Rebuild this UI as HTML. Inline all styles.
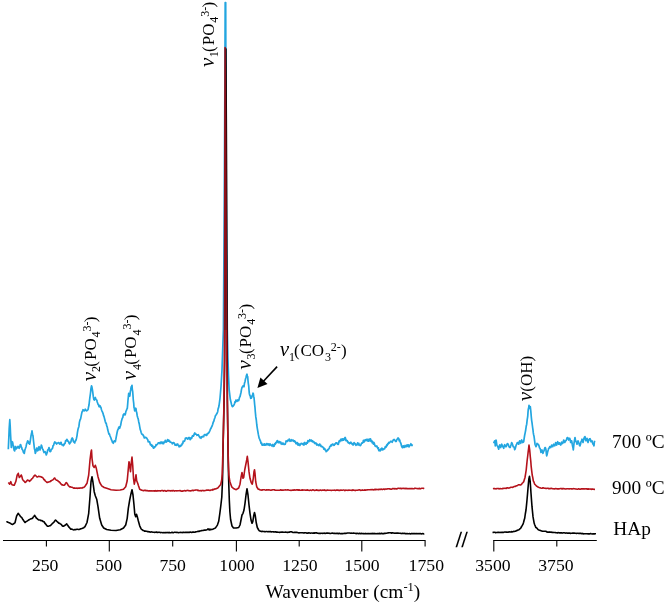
<!DOCTYPE html>
<html><head><meta charset="utf-8"><title>Raman spectra</title>
<style>html,body{margin:0;padding:0;background:#fff}svg{display:block}</style></head>
<body>
<svg width="666" height="604" viewBox="0 0 666 604">
<rect width="666" height="604" fill="#fff"/>
<g fill="none" stroke-width="1.6" stroke-linejoin="round" stroke-linecap="butt">
<path stroke="#23a6e0" stroke-width="1.7" d="M8.3,449.2 L8.8,438.2 L9.2,428.3 L9.5,424.1 L9.8,419.7 L10.2,426.2 L10.5,433.3 L10.9,440.6 L11.3,447.5 L11.7,444.9 L12.0,441.7 L12.5,442.0 L13.0,444.2 L13.3,445.2 L13.7,448.3 L14.2,450.3 L14.7,450.8 L15.0,448.2 L15.3,446.7 L15.8,446.6 L16.2,448.9 L16.7,448.3 L17.1,447.6 L17.6,447.7 L18.0,446.3 L18.6,447.3 L19.2,448.3 L19.8,446.8 L20.3,444.7 L20.8,444.8 L21.2,446.9 L21.7,447.5 L22.1,449.4 L22.6,449.8 L23.0,450.8 L23.4,452.2 L23.9,452.9 L24.3,453.3 L24.9,449.9 L25.5,448.3 L26.1,446.4 L26.7,443.3 L27.2,442.3 L27.7,440.8 L28.2,441.6 L28.7,443.3 L29.2,442.7 L29.7,444.2 L30.1,442.2 L30.6,438.6 L31.0,435.8 L31.5,433.8 L32.0,430.8 L32.5,434.2 L33.0,435.8 L33.5,440.9 L34.0,445.0 L34.4,448.7 L34.9,450.3 L35.3,453.3 L35.8,452.2 L36.2,449.7 L36.7,448.0 L37.2,450.4 L37.7,450.8 L38.1,450.3 L38.6,447.2 L39.0,446.7 L39.5,447.5 L40.0,450.0 L40.4,447.7 L40.9,447.7 L41.3,445.0 L41.8,446.2 L42.2,448.1 L42.7,449.2 L43.1,449.8 L43.6,451.4 L44.0,452.5 L44.4,452.0 L44.9,451.6 L45.3,451.7 L45.8,453.5 L46.3,455.0 L46.8,453.5 L47.2,452.6 L47.7,450.0 L48.1,449.6 L48.6,449.3 L49.0,447.5 L49.4,449.7 L49.9,451.4 L50.3,451.7 L50.8,451.2 L51.2,449.3 L51.7,449.2 L52.1,448.8 L52.6,448.0 L53.0,445.8 L53.6,445.4 L54.1,443.4 L54.7,442.0 L55.1,442.9 L55.6,442.3 L56.0,443.3 L56.6,444.0 L57.1,443.3 L57.7,443.0 L58.2,442.7 L58.8,442.5 L59.3,443.7 L59.8,444.1 L60.2,444.0 L60.7,442.5 L61.1,442.3 L61.6,444.6 L62.0,444.7 L62.4,444.9 L62.9,444.7 L63.3,445.8 L63.8,444.5 L64.2,444.8 L64.7,443.3 L65.1,443.3 L65.6,440.7 L66.0,440.8 L66.4,440.8 L66.9,439.3 L67.3,440.0 L67.8,441.1 L68.2,441.0 L68.7,442.0 L69.1,443.3 L69.6,443.9 L70.0,443.3 L70.4,442.2 L70.9,442.2 L71.3,440.0 L71.8,438.6 L72.2,438.0 L72.8,438.7 L73.3,441.3 L73.8,442.1 L74.2,441.4 L74.7,443.0 L75.1,441.3 L75.6,440.8 L76.0,440.0 L76.5,438.2 L77.0,435.8 L77.4,432.6 L77.9,429.8 L78.3,428.3 L78.9,426.4 L79.4,422.4 L80.0,420.0 L80.6,418.8 L81.1,416.4 L81.7,413.3 L82.1,411.8 L82.6,410.8 L83.0,409.7 L83.6,410.3 L84.2,410.8 L84.8,410.3 L85.3,409.2 L85.8,410.2 L86.3,410.8 L86.8,410.7 L87.2,410.5 L87.7,410.0 L88.1,409.3 L88.6,406.7 L89.0,405.0 L89.5,400.7 L90.0,396.7 L90.5,393.0 L91.0,388.3 L91.5,385.8 L91.9,386.9 L92.3,389.2 L92.8,392.5 L93.3,396.7 L93.8,399.4 L94.3,400.0 L94.8,398.8 L95.3,397.5 L95.8,398.9 L96.3,400.0 L96.8,400.0 L97.2,402.0 L97.7,403.3 L98.1,404.6 L98.6,404.5 L99.0,406.7 L99.5,406.5 L100.0,405.8 L100.4,407.2 L100.9,407.1 L101.3,409.2 L101.9,410.8 L102.4,411.9 L103.0,413.3 L103.6,415.7 L104.1,416.9 L104.7,419.2 L105.2,421.3 L105.7,423.0 L106.2,423.1 L106.7,425.8 L107.2,426.8 L107.8,430.1 L108.3,431.7 L108.9,434.1 L109.4,433.9 L110.0,435.8 L110.5,437.0 L111.0,438.3 L111.4,439.8 L111.9,440.4 L112.3,442.0 L112.8,442.4 L113.3,443.3 L113.8,441.7 L114.3,440.8 L114.8,441.0 L115.3,441.7 L115.8,439.4 L116.3,436.7 L116.8,434.0 L117.2,432.0 L117.7,430.0 L118.2,429.3 L118.7,427.5 L119.2,426.9 L119.7,428.3 L120.1,426.8 L120.6,425.5 L121.0,423.3 L121.4,421.2 L121.9,419.4 L122.3,418.3 L122.8,417.6 L123.2,415.0 L123.7,414.2 L124.1,413.8 L124.6,414.6 L125.0,415.0 L125.4,414.0 L125.9,411.3 L126.3,410.8 L126.8,409.2 L127.3,408.3 L127.7,403.8 L128.0,400.0 L128.3,397.4 L128.7,393.3 L129.0,394.4 L129.3,395.8 L129.7,396.2 L130.0,395.0 L130.3,391.8 L130.7,390.0 L131.0,388.0 L131.3,386.7 L131.7,386.3 L132.0,385.3 L132.3,389.3 L132.7,391.7 L133.0,395.7 L133.3,400.0 L133.7,403.1 L134.0,407.5 L134.3,408.3 L134.7,410.8 L135.0,410.1 L135.3,409.2 L135.7,408.2 L136.0,408.7 L136.3,411.3 L136.7,412.5 L137.2,415.7 L137.7,417.5 L138.2,418.9 L138.7,421.7 L139.2,423.7 L139.7,426.7 L140.2,429.4 L140.7,430.8 L141.1,432.3 L141.6,433.7 L142.0,434.2 L142.4,434.4 L142.9,434.5 L143.3,435.8 L143.8,436.1 L144.2,437.9 L144.7,438.0 L145.1,437.3 L145.6,437.3 L146.0,437.5 L146.4,437.9 L146.9,438.4 L147.3,439.2 L147.8,439.8 L148.2,441.8 L148.7,441.7 L149.1,441.5 L149.6,441.7 L150.0,443.3 L150.4,444.8 L150.9,445.1 L151.3,444.7 L151.8,446.1 L152.2,445.3 L152.7,445.8 L153.1,447.5 L153.6,448.2 L154.0,448.0 L154.5,446.9 L155.0,447.0 L155.5,446.4 L156.0,444.7 L156.4,445.2 L156.9,444.7 L157.3,444.2 L157.8,443.8 L158.2,442.9 L158.7,443.0 L159.1,442.9 L159.6,442.8 L160.0,443.7 L160.4,442.2 L160.9,442.8 L161.3,442.0 L161.8,442.0 L162.2,443.6 L162.7,443.3 L163.1,442.1 L163.6,443.7 L164.0,442.5 L164.4,442.2 L164.9,442.0 L165.3,440.3 L165.8,441.7 L166.2,442.1 L166.7,441.7 L167.1,441.3 L167.6,439.5 L168.0,440.0 L168.4,441.0 L168.9,440.2 L169.3,441.3 L169.8,441.1 L170.2,442.1 L170.7,442.0 L171.1,442.4 L171.6,442.5 L172.0,443.0 L172.4,443.8 L172.9,442.9 L173.3,442.5 L173.8,442.7 L174.2,443.1 L174.7,444.2 L175.1,445.2 L175.6,444.7 L176.0,445.0 L176.4,445.3 L176.9,444.1 L177.3,444.2 L177.8,444.1 L178.2,445.4 L178.7,445.8 L179.2,446.8 L179.7,446.3 L180.1,445.3 L180.6,446.3 L181.0,445.3 L181.4,445.6 L181.9,444.7 L182.3,443.3 L182.8,443.5 L183.2,441.1 L183.7,441.7 L184.1,441.3 L184.6,441.1 L185.0,439.7 L185.4,438.1 L185.9,438.1 L186.3,438.0 L186.8,437.9 L187.2,438.8 L187.7,439.2 L188.1,438.4 L188.6,438.0 L189.0,437.5 L189.4,438.8 L189.9,437.8 L190.3,439.7 L190.8,438.2 L191.2,438.0 L191.7,438.3 L192.1,436.7 L192.6,435.7 L193.0,435.8 L193.4,436.2 L193.9,435.2 L194.3,433.7 L194.8,432.9 L195.2,434.0 L195.7,434.2 L196.1,434.2 L196.6,434.5 L197.0,435.3 L197.4,434.8 L197.9,435.2 L198.3,434.7 L198.8,435.8 L199.2,436.2 L199.7,437.5 L200.1,437.1 L200.6,437.7 L201.0,438.3 L201.4,436.8 L201.9,437.1 L202.3,436.3 L202.8,436.9 L203.2,436.3 L203.7,436.7 L204.1,435.1 L204.6,434.6 L205.0,434.7 L205.4,434.6 L205.9,435.3 L206.3,435.3 L206.8,435.3 L207.2,433.7 L207.7,433.3 L208.2,433.6 L208.8,432.7 L209.3,432.0 L209.9,430.6 L210.4,429.3 L211.0,428.3 L211.6,426.9 L212.1,426.0 L212.7,424.2 L213.2,422.3 L213.8,421.3 L214.3,419.2 L214.9,417.7 L215.4,415.8 L216.0,415.0 L216.6,414.0 L217.1,413.2 L217.7,411.7 L218.1,408.8 L218.6,407.6 L219.0,405.8 L220.0,398.3 L221.0,386.7 L221.7,375.0 L222.0,370.0 L223.4,330.0 L224.3,200.0 L224.9,80.0 L225.2,2.5 L225.7,2.5 L225.9,80.0 L226.3,200.0 L227.3,330.0 L227.9,357.4 L228.5,375.6 L229.2,390.2 L230.3,399.3 L231.6,404.8 L232.0,406.0 L232.5,406.6 L232.3,406.3 L232.8,406.4 L233.2,406.1 L233.7,405.0 L234.1,404.9 L234.6,403.3 L235.0,401.7 L235.4,402.3 L235.9,400.1 L236.3,400.8 L236.8,400.5 L237.2,401.3 L237.7,400.0 L238.1,400.2 L238.6,400.7 L239.0,399.7 L239.5,397.3 L240.0,396.7 L240.5,394.5 L241.0,392.5 L241.5,389.4 L242.0,387.5 L242.5,386.8 L243.0,385.8 L243.5,386.4 L244.0,386.7 L244.5,383.1 L245.0,381.7 L245.5,379.0 L246.0,377.5 L246.5,375.3 L247.0,374.2 L247.3,376.3 L247.7,376.7 L248.0,380.6 L248.3,383.3 L248.7,385.9 L249.0,390.0 L249.3,393.2 L249.7,395.0 L250.2,395.9 L250.7,398.3 L251.2,398.2 L251.7,397.5 L252.2,395.4 L252.7,395.0 L253.0,393.2 L253.3,393.7 L253.7,396.4 L254.0,397.5 L254.3,400.6 L254.7,405.0 L255.0,407.7 L255.3,411.7 L255.8,416.9 L256.3,420.0 L256.8,425.0 L257.3,428.3 L258.3,434.2 L258.8,436.6 L259.2,438.3 L259.7,439.2 L260.1,440.5 L260.6,441.3 L261.0,443.3 L261.5,442.9 L262.0,445.0 L262.4,445.2 L262.8,444.5 L263.2,445.1 L263.7,444.2 L264.1,444.0 L264.5,445.1 L264.9,444.0 L265.3,444.7 L265.8,445.2 L266.2,444.8 L266.6,443.7 L267.0,443.7 L267.4,444.1 L267.8,444.8 L268.2,443.9 L268.7,445.0 L269.1,444.9 L269.5,445.4 L269.9,443.8 L270.3,444.2 L270.8,445.2 L271.2,445.2 L271.6,445.9 L272.0,445.3 L272.4,445.0 L272.8,444.5 L273.2,446.5 L273.7,445.8 L274.1,446.2 L274.5,444.9 L274.9,443.5 L275.3,444.2 L275.8,442.5 L276.2,442.9 L276.7,441.7 L277.2,440.7 L277.7,440.8 L278.1,442.6 L278.6,442.2 L279.0,442.5 L279.4,441.6 L279.9,442.6 L280.3,442.0 L280.8,442.1 L281.2,444.0 L281.7,443.3 L282.1,444.3 L282.6,443.1 L283.0,443.0 L283.4,443.8 L283.9,444.3 L284.3,444.2 L284.8,444.4 L285.2,444.3 L285.7,442.5 L286.1,440.9 L286.6,441.4 L287.0,441.3 L287.4,441.3 L287.9,440.2 L288.3,440.3 L288.8,440.5 L289.2,439.0 L289.7,440.0 L290.1,441.3 L290.6,440.6 L291.0,440.8 L291.4,439.7 L291.9,440.9 L292.3,440.3 L292.8,440.2 L293.2,440.2 L293.7,441.3 L294.1,441.5 L294.6,440.8 L295.0,442.0 L295.4,441.6 L295.9,443.6 L296.3,443.0 L296.8,443.9 L297.2,442.5 L297.7,444.2 L298.1,445.2 L298.6,443.5 L299.0,445.0 L299.4,444.3 L299.9,445.5 L300.3,444.2 L300.8,444.3 L301.2,443.3 L301.7,443.7 L302.1,443.7 L302.6,444.0 L303.0,444.7 L303.4,443.3 L303.9,445.1 L304.3,443.3 L304.8,442.5 L305.2,443.7 L305.7,444.2 L306.1,444.3 L306.6,442.8 L307.0,442.5 L307.4,443.2 L307.9,440.7 L308.3,440.8 L308.8,441.7 L309.2,441.1 L309.7,439.7 L310.1,440.2 L310.6,440.9 L311.0,440.0 L311.4,440.1 L311.9,441.4 L312.3,440.8 L312.8,441.9 L313.2,441.4 L313.7,441.7 L314.1,442.1 L314.6,443.3 L315.0,443.3 L315.4,443.4 L315.9,442.8 L316.3,444.2 L316.8,445.1 L317.2,444.1 L317.7,445.0 L318.1,444.9 L318.6,445.5 L319.0,444.7 L319.4,444.2 L319.9,444.2 L320.3,445.8 L320.8,445.1 L321.2,446.6 L321.7,446.7 L322.1,446.6 L322.6,446.6 L323.0,447.5 L323.4,447.7 L323.9,449.2 L324.3,448.3 L324.8,448.7 L325.3,450.3 L325.8,450.3 L326.2,451.7 L326.7,450.8 L327.1,450.8 L327.6,449.7 L328.0,450.0 L328.4,449.4 L328.9,448.8 L329.3,448.3 L329.8,446.6 L330.2,446.3 L330.7,445.8 L331.1,444.9 L331.6,445.8 L332.0,444.7 L332.5,444.0 L333.0,444.2 L333.4,444.6 L333.8,445.4 L334.2,445.3 L334.7,444.2 L335.1,443.6 L335.5,443.9 L335.9,442.8 L336.3,443.0 L336.8,442.9 L337.2,443.3 L337.6,444.3 L338.0,443.7 L338.4,444.3 L338.8,442.1 L339.2,440.9 L339.7,441.7 L340.1,441.1 L340.5,439.7 L340.9,439.2 L341.3,440.0 L341.8,440.6 L342.2,438.8 L342.6,440.3 L343.0,439.7 L343.4,438.9 L343.8,440.0 L344.2,439.3 L344.7,438.0 L345.1,437.4 L345.5,438.2 L345.9,440.7 L346.3,440.0 L346.8,440.7 L347.2,440.6 L347.6,442.0 L348.0,441.7 L348.4,443.0 L348.8,442.6 L349.2,443.1 L349.7,443.7 L350.1,442.5 L350.5,443.0 L350.9,442.2 L351.3,443.0 L351.8,443.8 L352.2,444.3 L352.6,443.6 L353.0,445.0 L353.4,444.9 L353.8,443.1 L354.2,442.7 L354.7,443.3 L355.1,444.0 L355.5,443.9 L355.9,445.4 L356.3,444.7 L356.8,444.8 L357.2,444.7 L357.6,442.9 L358.0,443.7 L358.4,444.9 L358.8,443.3 L359.2,445.0 L359.7,445.0 L360.1,445.7 L360.5,445.4 L360.9,445.0 L361.3,443.7 L361.8,443.0 L362.2,443.2 L362.6,442.9 L363.0,441.7 L363.4,440.4 L363.8,442.2 L364.2,441.7 L364.7,440.3 L365.1,440.0 L365.5,440.7 L365.9,439.7 L366.3,439.7 L366.8,439.4 L367.2,440.8 L367.6,439.4 L368.0,440.8 L368.4,441.2 L368.8,441.2 L369.2,439.0 L369.7,439.2 L370.1,440.7 L370.5,438.9 L370.9,441.3 L371.3,440.8 L371.8,440.7 L372.2,442.9 L372.6,441.9 L373.0,442.5 L373.4,444.1 L373.8,442.4 L374.2,443.0 L374.7,444.7 L375.1,446.0 L375.5,446.0 L375.9,446.3 L376.3,446.7 L376.8,446.0 L377.2,446.8 L377.6,447.8 L378.0,448.7 L378.4,447.8 L378.8,450.6 L379.2,450.4 L379.7,450.0 L380.1,451.0 L380.5,450.1 L380.9,449.0 L381.3,449.2 L381.8,448.2 L382.2,450.0 L382.6,448.5 L383.0,449.7 L383.4,449.5 L383.8,449.1 L384.2,448.9 L384.7,448.7 L385.1,447.1 L385.5,446.6 L385.9,447.2 L386.3,446.7 L386.8,444.8 L387.2,445.5 L387.6,443.9 L388.0,444.2 L388.4,443.2 L388.8,442.4 L389.2,443.1 L389.7,442.5 L390.1,442.0 L390.5,441.4 L390.9,441.2 L391.3,441.7 L391.8,441.6 L392.2,442.3 L392.6,440.8 L393.0,440.8 L393.4,439.7 L393.8,439.9 L394.2,439.5 L394.7,440.0 L395.1,440.5 L395.5,441.4 L395.9,441.2 L396.3,441.3 L396.8,439.7 L397.2,439.2 L397.6,438.5 L398.0,438.0 L398.4,438.3 L398.8,438.7 L399.2,440.8 L399.7,440.0 L400.1,441.4 L400.6,442.9 L401.0,443.7 L401.4,445.5 L401.8,446.6 L402.2,447.5 L402.6,447.7 L402.9,446.1 L403.3,445.8 L403.8,446.4 L404.2,447.4 L404.7,446.3 L405.1,445.5 L405.5,446.8 L405.9,446.3 L406.3,446.7 L406.8,445.2 L407.2,444.8 L407.6,446.3 L408.0,445.3 L408.4,444.8 L408.9,446.8 L409.3,446.7 L409.7,445.0 L410.1,445.0 L410.5,444.7 L410.9,443.7 L411.3,445.2 L411.7,445.3 L412.0,445.5 L412.3,444.2"/>
<path stroke="#23a6e0" stroke-width="1.7" d="M493.7,443.3 L494.2,441.8 L494.7,440.8 L495.0,442.7 L495.3,445.8 L495.7,443.2 L496.0,440.0 L496.3,441.3 L496.7,444.2 L497.2,445.5 L497.7,446.7 L498.2,447.7 L498.7,449.2 L499.2,446.3 L499.7,445.0 L500.2,446.3 L500.7,447.5 L501.2,445.0 L501.7,444.2 L502.2,445.3 L502.7,446.7 L503.2,446.7 L503.7,448.3 L504.2,445.8 L504.7,444.7 L505.2,445.5 L505.7,446.7 L506.2,446.6 L506.7,445.3 L507.2,443.8 L507.7,443.7 L508.2,444.3 L508.7,445.8 L509.2,446.9 L509.7,447.5 L510.2,447.5 L510.7,445.8 L511.2,444.3 L511.7,442.5 L512.2,443.6 L512.7,445.0 L513.2,446.7 L513.7,446.7 L514.2,447.4 L514.7,449.7 L515.2,448.8 L515.7,446.7 L516.2,445.0 L516.7,444.2 L517.2,442.7 L517.7,442.5 L518.2,442.6 L518.7,444.2 L519.2,442.2 L519.7,440.8 L520.2,442.7 L520.7,443.3 L521.2,441.1 L521.7,440.0 L522.2,441.4 L522.7,442.5 L523.2,442.3 L523.7,441.7 L524.2,438.1 L524.7,435.0 L525.2,432.6 L525.7,430.0 L526.2,426.3 L526.7,424.2 L527.2,419.6 L527.7,416.7 L528.0,412.4 L528.3,409.2 L528.7,407.6 L529.0,405.3 L529.3,406.7 L529.7,408.3 L530.0,407.2 L530.3,406.7 L530.7,410.2 L531.0,413.3 L531.3,417.0 L531.7,420.8 L532.0,422.6 L532.3,425.0 L532.7,428.0 L533.0,430.0 L533.3,432.9 L533.7,435.0 L534.0,436.2 L534.3,438.3 L534.7,441.4 L535.0,444.2 L535.5,445.5 L536.0,446.7 L536.5,445.7 L537.0,443.3 L537.5,444.2 L538.0,444.2 L538.5,444.6 L539.0,445.8 L539.5,447.9 L540.0,448.3 L540.5,449.7 L541.0,452.5 L541.5,451.1 L542.0,450.0 L542.5,452.1 L543.0,453.3 L543.5,451.5 L544.0,450.8 L544.5,449.1 L545.0,447.5 L545.5,447.9 L546.0,450.0 L546.3,453.2 L546.7,455.8 L547.2,454.2 L547.7,451.7 L548.2,450.1 L548.7,448.3 L549.2,448.2 L549.7,446.7 L550.2,446.7 L550.7,447.5 L551.2,446.6 L551.7,445.0 L552.2,446.0 L552.7,446.7 L553.2,445.6 L553.7,444.2 L554.2,444.9 L554.7,445.8 L555.2,444.8 L555.7,442.5 L556.2,444.6 L556.7,445.0 L557.2,443.3 L557.7,441.7 L558.2,443.2 L558.7,444.2 L559.2,442.8 L559.7,443.0 L560.2,444.4 L560.7,445.0 L561.2,443.8 L561.7,442.0 L562.2,443.6 L562.7,443.3 L563.2,442.2 L563.7,440.0 L564.2,440.9 L564.7,442.5 L565.2,441.5 L565.7,440.8 L566.2,440.3 L566.7,439.2 L567.2,437.5 L567.7,437.5 L568.2,438.7 L568.7,440.0 L569.2,438.6 L569.7,438.3 L570.2,439.7 L570.7,442.5 L571.2,440.9 L571.7,440.8 L572.2,444.2 L572.7,446.7 L573.0,447.7 L573.3,450.0 L573.7,446.2 L574.0,443.3 L574.5,440.2 L575.0,437.5 L575.5,440.3 L576.0,441.7 L576.5,442.2 L577.0,444.2 L577.5,442.4 L578.0,440.8 L578.5,442.2 L579.0,443.3 L579.5,445.3 L580.0,445.8 L580.5,444.3 L581.0,441.7 L581.5,441.1 L582.0,439.2 L582.5,440.4 L583.0,442.5 L583.5,440.3 L584.0,438.3 L584.5,437.2 L585.0,436.7 L585.5,439.4 L586.0,440.8 L586.5,440.4 L587.0,438.3 L587.5,439.8 L588.0,442.5 L588.5,440.7 L589.0,440.0 L589.5,438.9 L590.0,438.7 L590.5,439.7 L591.0,441.7 L591.5,441.2 L592.0,440.8 L592.5,442.7 L593.0,444.2 L593.5,444.6 L594.0,445.8 L594.3,442.4 L594.7,440.8"/>
<path stroke="#000" d="M6.3,521.7 L7.0,521.7 L7.8,522.3 L8.5,522.5 L9.2,522.7 L9.8,523.0 L10.5,523.3 L11.2,523.9 L11.8,524.3 L12.5,524.5 L13.1,524.1 L13.8,523.7 L14.4,523.1 L15.0,522.8 L15.6,520.3 L16.1,518.1 L16.7,515.8 L17.2,515.0 L17.8,514.0 L18.3,513.3 L19.0,514.5 L19.7,515.2 L20.3,516.3 L20.9,516.9 L21.6,517.4 L22.2,518.3 L22.9,519.6 L23.6,520.5 L24.3,521.6 L25.0,522.5 L25.6,522.1 L26.2,521.4 L26.9,521.2 L27.5,520.8 L28.1,520.4 L28.8,519.8 L29.4,519.8 L30.0,519.2 L30.6,518.9 L31.2,518.6 L31.9,518.7 L32.5,518.3 L33.2,517.1 L33.9,516.5 L34.7,515.3 L35.2,516.2 L35.8,517.1 L36.3,518.0 L37.1,518.6 L37.9,519.3 L38.7,520.0 L39.4,520.0 L40.2,520.0 L40.9,520.6 L41.7,520.5 L42.3,520.7 L42.9,521.4 L43.5,521.5 L44.2,522.0 L44.8,523.1 L45.5,523.9 L46.2,524.7 L46.8,525.6 L47.5,526.3 L48.1,526.2 L48.8,526.2 L49.4,525.8 L50.0,525.8 L50.8,525.1 L51.5,524.6 L52.2,523.6 L53.0,523.0 L53.6,522.5 L54.2,521.7 L54.9,520.7 L55.5,520.0 L56.2,520.6 L56.8,521.3 L57.5,522.0 L58.1,522.4 L58.8,523.1 L59.4,523.2 L60.0,523.7 L60.8,524.1 L61.5,524.8 L62.2,525.8 L63.0,526.3 L63.7,526.2 L64.3,525.7 L65.0,525.3 L65.6,524.8 L66.1,524.4 L66.7,523.8 L67.2,524.8 L67.8,525.4 L68.3,526.3 L69.0,527.1 L69.6,527.8 L70.2,528.5 L70.8,529.2 L71.5,529.1 L72.1,529.3 L72.7,529.5 L73.3,529.7 L74.0,529.9 L74.8,529.5 L75.5,529.6 L76.2,529.5 L76.9,529.3 L77.6,529.3 L78.3,529.5 L79.0,529.5 L79.7,529.2 L80.4,528.9 L81.1,528.8 L81.8,528.6 L82.5,528.3 L83.1,528.1 L83.8,527.7 L84.4,527.0 L85.0,526.7 L87.0,522.5 L88.7,513.3 L90.0,496.7 L91.0,481.7 L92.0,476.7 L93.0,482.5 L94.2,491.7 L95.3,495.8 L96.7,499.2 L98.0,506.7 L99.7,518.3 L101.7,525.0 L103.7,528.0 L106.7,529.5 L111.0,530.3 L116.0,530.5 L120.2,529.7 L123.5,528.0 L125.7,525.0 L127.2,518.3 L128.3,508.3 L129.7,500.0 L131.0,493.7 L132.0,489.7 L133.0,495.0 L134.0,505.0 L134.8,514.2 L135.7,516.7 L136.5,514.2 L137.3,516.7 L138.3,520.8 L139.7,525.8 L141.0,528.7 L141.7,529.5 L142.3,529.7 L143.0,530.5 L143.8,530.5 L144.5,531.2 L145.2,531.0 L146.0,531.3 L146.7,531.2 L147.4,531.6 L148.1,531.5 L148.9,531.9 L149.6,531.7 L150.3,532.1 L151.0,532.0 L151.8,531.9 L152.5,532.1 L153.3,532.3 L154.1,532.2 L154.8,532.4 L155.6,532.3 L156.4,532.0 L157.2,532.5 L157.9,532.4 L158.7,532.3 L159.5,532.3 L160.2,532.6 L161.0,532.5 L161.8,532.5 L162.6,532.7 L163.4,532.6 L164.2,532.7 L165.0,532.5 L165.8,532.6 L166.6,532.6 L167.3,532.4 L168.1,532.7 L168.9,532.4 L169.7,532.6 L170.5,532.7 L171.3,532.6 L172.1,532.3 L172.9,532.7 L173.7,532.6 L174.5,532.3 L175.3,532.3 L176.1,532.5 L176.9,532.3 L177.7,532.5 L178.5,532.7 L179.2,532.5 L180.0,532.5 L180.8,532.4 L181.6,532.5 L182.4,532.6 L183.2,532.3 L183.9,532.4 L184.7,532.5 L185.5,532.3 L186.3,532.4 L187.1,532.4 L187.9,532.3 L188.6,532.4 L189.4,532.4 L190.2,532.1 L191.0,532.3 L191.7,532.5 L192.4,532.1 L193.1,532.1 L193.9,532.0 L194.6,532.2 L195.3,532.1 L196.0,531.8 L196.7,531.7 L197.4,531.5 L198.1,531.2 L198.9,531.5 L199.6,531.0 L200.3,531.0 L201.0,530.8 L201.7,530.6 L202.4,530.5 L203.1,530.4 L203.9,530.2 L204.6,530.0 L205.3,530.1 L206.0,530.0 L206.7,529.9 L207.3,529.6 L208.0,529.1 L208.7,529.0 L209.4,529.3 L210.2,529.2 L211.0,529.7 L207.9,528.9 L208.3,529.3 L208.8,529.8 L209.6,529.9 L210.3,529.8 L211.1,529.4 L211.8,529.5 L212.6,529.2 L213.3,528.9 L214.1,528.6 L214.8,528.3 L215.5,527.9 L217.4,525.1 L218.7,521.3 L219.8,513.7 L220.9,505.0 L221.8,497.0 L222.4,483.0 L222.7,472.0 L223.0,450.0 L223.4,432.0 L224.1,400.0 L224.7,360.0 L225.1,300.0 L225.7,120.0 L225.9,49.0 L226.3,120.0 L227.0,300.0 L227.2,360.0 L227.4,400.0 L227.8,432.0 L228.1,455.0 L228.4,470.0 L228.8,485.0 L229.3,500.0 L229.9,512.0 L230.6,519.5 L232.0,526.0 L233.5,527.9 L236.2,528.0 L238.7,527.5 L240.0,525.0 L241.0,520.0 L242.0,515.0 L243.0,513.3 L244.0,510.0 L245.0,503.3 L246.0,495.0 L247.0,488.7 L248.0,495.0 L249.0,505.0 L250.0,513.3 L251.0,520.0 L252.0,523.3 L252.8,521.7 L253.7,515.8 L254.5,512.5 L255.3,515.8 L256.2,522.5 L257.3,527.5 L258.7,530.0 L259.3,530.7 L260.0,531.1 L260.7,531.3 L261.4,531.6 L262.2,531.2 L263.0,531.5 L263.8,531.5 L264.6,531.6 L265.3,531.7 L266.1,531.5 L266.8,531.5 L267.6,531.7 L268.3,531.6 L269.0,531.7 L269.8,531.5 L270.5,531.6 L271.3,531.9 L272.0,531.8 L272.8,531.8 L273.5,531.9 L274.3,532.0 L275.0,531.9 L275.8,531.8 L276.5,532.2 L277.3,532.1 L278.1,532.2 L278.8,532.2 L279.6,532.4 L280.3,532.2 L281.1,532.1 L281.8,532.3 L282.6,532.1 L283.4,532.3 L284.1,532.3 L284.9,532.2 L285.6,532.1 L286.4,532.3 L287.2,532.4 L287.9,532.4 L288.7,532.3 L289.2,532.1 L289.8,532.1 L290.3,531.8 L291.0,531.8 L291.7,531.9 L292.3,532.1 L293.0,532.5 L293.7,532.5 L294.4,532.4 L295.2,532.4 L295.9,532.4 L296.7,532.4 L297.5,532.5 L298.2,532.7 L299.0,532.9 L299.7,532.7 L300.5,532.7 L301.2,532.7 L302.0,532.8 L302.8,532.7 L303.5,533.0 L304.3,532.9 L305.1,532.8 L305.8,532.7 L306.6,533.1 L307.4,533.0 L308.2,533.1 L308.9,532.8 L309.7,533.0 L310.5,533.2 L311.2,533.0 L312.0,533.0 L312.8,533.2 L313.5,532.9 L314.3,533.3 L315.1,532.8 L315.8,533.0 L316.6,532.8 L317.4,533.2 L318.2,533.2 L318.9,533.4 L319.7,533.3 L320.5,533.4 L321.2,533.2 L322.0,533.2 L322.8,533.4 L323.6,533.3 L324.4,533.1 L325.1,533.5 L325.9,533.2 L326.7,533.1 L327.5,533.0 L328.3,533.2 L329.1,533.1 L329.9,533.5 L330.6,533.5 L331.4,533.2 L332.2,533.1 L333.0,533.3 L333.8,533.4 L334.5,533.2 L335.3,533.4 L336.0,533.6 L336.8,533.3 L337.5,533.4 L338.3,533.6 L339.1,533.4 L339.8,533.4 L340.6,533.7 L341.3,533.5 L342.1,533.6 L342.8,533.6 L343.6,533.5 L344.4,533.3 L345.1,533.4 L345.9,533.4 L346.6,533.3 L347.4,533.0 L348.2,533.0 L348.9,533.0 L349.7,533.0 L350.4,533.2 L351.2,533.1 L351.9,533.2 L352.7,533.3 L353.5,533.0 L354.2,533.3 L355.0,533.2 L355.7,533.4 L356.5,533.6 L357.2,533.3 L358.0,533.5 L358.8,533.7 L359.5,533.3 L360.3,533.6 L361.0,533.6 L361.8,533.4 L362.5,533.6 L363.3,533.6 L364.1,533.6 L364.8,533.7 L365.6,533.4 L366.3,533.7 L367.1,533.6 L367.9,533.8 L368.7,533.5 L369.5,533.8 L370.3,533.5 L371.1,533.7 L371.9,533.4 L372.7,533.6 L373.5,533.6 L374.3,533.4 L375.1,533.7 L375.9,533.6 L376.7,533.7 L377.4,533.6 L378.2,533.6 L379.0,533.6 L379.8,533.4 L380.6,533.7 L381.4,533.3 L382.2,533.7 L383.0,533.5 L383.7,533.6 L384.5,533.4 L385.2,533.4 L386.0,533.3 L386.7,533.2 L387.4,533.0 L388.2,532.9 L388.9,532.8 L389.7,532.8 L390.4,532.8 L391.2,533.1 L392.0,532.9 L392.7,532.9 L393.5,533.0 L394.3,533.2 L395.1,533.1 L395.8,533.2 L396.6,533.1 L397.4,533.1 L398.1,533.1 L398.9,533.2 L399.7,533.3 L400.4,533.2 L401.2,533.6 L401.9,533.4 L402.7,533.3 L403.5,533.5 L404.2,533.3 L405.0,533.6 L405.7,533.5 L406.5,533.8 L407.2,533.5 L408.0,533.7 L408.8,533.8 L409.6,533.5 L410.3,533.9 L411.1,533.7 L411.9,533.4 L412.7,533.8 L413.4,533.6 L414.2,533.6 L415.0,533.5 L415.8,533.8 L416.6,533.5 L417.3,533.8 L418.1,533.6 L418.9,533.8 L419.7,533.6 L420.4,533.5 L421.2,533.9 L422.0,533.7 L422.8,533.5 L423.6,533.9 L424.3,533.7"/>
<path stroke="#000" d="M492.5,532.5 L493.3,532.4 L494.0,532.3 L494.8,532.3 L495.6,532.7 L496.3,532.5 L497.1,532.5 L497.8,532.4 L498.6,532.3 L499.4,532.5 L500.1,532.4 L500.9,532.5 L501.7,532.3 L502.4,532.4 L503.2,532.4 L503.9,532.2 L504.7,532.0 L505.5,532.0 L506.2,532.3 L507.0,532.0 L507.7,532.2 L508.5,532.1 L509.2,531.8 L510.0,532.0 L510.7,532.0 L511.4,531.6 L512.1,531.9 L512.9,531.8 L513.6,531.4 L514.3,531.5 L515.0,531.3 L515.7,531.2 L516.3,530.6 L517.0,530.6 L517.7,530.1 L518.3,530.0 L519.0,529.7 L519.6,529.1 L520.2,528.7 L520.8,528.0 L521.6,526.5 L522.3,525.4 L523.0,524.2 L523.6,522.3 L524.1,520.3 L524.7,518.3 L525.3,514.0 L526.0,510.0 L526.5,505.2 L527.0,500.0 L527.5,494.3 L528.0,488.3 L528.4,483.7 L528.8,479.2 L529.5,476.3 L530.2,481.7 L530.6,487.3 L531.0,493.3 L531.5,500.1 L532.0,506.7 L532.5,511.6 L533.0,516.7 L533.6,520.1 L534.2,523.3 L534.7,524.7 L535.3,526.1 L535.8,527.5 L536.5,527.8 L537.1,528.4 L537.7,529.1 L538.3,529.7 L539.0,530.0 L539.7,530.2 L540.3,530.6 L541.0,530.8 L541.7,531.0 L542.4,531.3 L543.1,531.3 L543.9,531.2 L544.6,531.3 L545.4,531.3 L546.1,531.4 L546.9,532.0 L547.6,532.1 L548.3,532.0 L549.1,532.2 L549.8,531.9 L550.6,532.3 L551.4,532.1 L552.1,532.5 L552.9,532.4 L553.6,532.5 L554.4,532.5 L555.2,532.5 L555.9,532.8 L556.7,532.7 L557.4,532.9 L558.2,532.6 L558.9,532.7 L559.7,532.9 L560.5,532.9 L561.2,532.8 L562.0,532.9 L562.7,533.1 L563.5,532.8 L564.2,532.8 L565.0,533.0 L565.8,533.1 L566.5,532.9 L567.3,533.3 L568.1,533.0 L568.8,533.3 L569.6,533.1 L570.4,533.4 L571.2,533.3 L571.9,533.3 L572.7,533.1 L573.5,533.1 L574.2,533.1 L575.0,533.3 L575.8,533.2 L576.5,533.5 L577.3,533.2 L578.1,533.3 L578.8,533.5 L579.6,533.3 L580.4,533.4 L581.2,533.4 L581.9,533.7 L582.7,533.4 L583.5,533.9 L584.2,533.7 L585.0,533.7 L585.8,533.8 L586.6,533.7 L587.4,533.7 L588.1,533.9 L588.9,533.9 L589.7,533.9 L590.5,533.5 L591.3,533.8 L592.1,534.0 L592.9,533.9 L593.6,533.8 L594.4,533.9 L595.2,533.7 L596.0,533.8"/>
<path stroke="#b5121b" d="M8.3,482.5 L9.0,483.3 L9.7,484.2 L10.2,483.0 L10.8,481.7 L11.4,483.5 L12.0,484.7 L12.7,484.9 L13.4,485.1 L14.2,485.3 L14.7,484.2 L15.3,482.7 L15.8,481.7 L16.5,478.3 L17.2,475.0 L17.8,474.3 L18.3,473.3 L18.8,475.6 L19.3,477.5 L19.8,476.8 L20.3,476.7 L20.8,475.7 L21.3,475.0 L21.9,476.8 L22.5,479.2 L23.1,480.2 L23.8,481.0 L24.4,481.3 L25.0,482.5 L25.6,482.2 L26.2,481.6 L26.9,480.7 L27.5,480.0 L28.2,480.5 L28.9,480.6 L29.7,481.3 L30.4,480.2 L31.1,479.9 L31.8,478.8 L32.5,478.3 L33.1,477.3 L33.8,476.5 L34.4,475.5 L35.0,475.0 L35.7,475.6 L36.3,476.3 L37.0,477.0 L37.6,477.0 L38.1,476.6 L38.7,476.3 L39.4,476.5 L40.1,476.6 L40.8,476.7 L41.4,477.1 L41.9,477.2 L42.5,477.5 L43.2,478.2 L43.9,479.5 L44.7,480.0 L45.3,481.0 L45.9,481.5 L46.5,482.0 L47.2,482.5 L47.9,482.2 L48.6,481.9 L49.3,481.7 L50.0,481.7 L50.6,480.9 L51.2,481.0 L51.9,480.3 L52.5,480.0 L53.2,479.6 L53.9,478.6 L54.7,478.0 L55.3,479.1 L56.0,479.8 L56.7,480.3 L57.3,480.3 L57.9,480.8 L58.5,481.6 L59.2,481.7 L59.9,482.5 L60.6,483.7 L61.3,484.1 L62.0,485.0 L62.7,484.8 L63.4,485.3 L64.2,485.3 L64.9,484.6 L65.6,483.3 L66.3,482.5 L66.9,483.0 L67.4,484.0 L68.0,485.0 L68.7,486.0 L69.3,486.5 L70.0,487.0 L70.7,486.9 L71.3,487.2 L72.0,487.3 L72.7,487.5 L73.3,488.0 L74.0,488.3 L74.8,487.9 L75.5,488.2 L76.2,488.2 L76.9,488.0 L77.6,488.4 L78.3,488.3 L79.0,488.0 L79.7,488.3 L80.4,487.9 L81.1,488.1 L81.8,487.9 L82.5,488.0 L83.1,487.4 L83.8,487.5 L84.4,487.0 L85.0,486.3 L87.0,483.3 L88.7,475.0 L90.0,460.0 L91.0,452.0 L91.5,450.0 L92.0,458.3 L93.0,465.8 L94.2,467.5 L95.3,465.3 L96.3,468.3 L98.0,476.7 L99.7,482.5 L101.7,485.8 L104.2,487.5 L106.7,488.3 L111.0,489.7 L116.0,490.3 L120.2,490.0 L123.5,489.2 L125.7,486.7 L127.2,480.8 L128.2,470.0 L129.0,461.7 L129.8,465.8 L130.5,471.7 L131.2,463.3 L132.0,457.0 L132.7,465.0 L133.5,478.3 L134.3,484.2 L135.2,480.0 L136.0,474.7 L136.7,480.8 L137.7,483.3 L138.5,485.8 L139.7,489.2 L141.8,490.3 L142.5,490.4 L143.2,490.6 L143.9,490.6 L144.6,490.3 L145.3,490.3 L146.0,490.7 L146.7,490.6 L147.5,490.6 L148.2,491.0 L149.0,490.9 L149.7,490.9 L150.4,490.9 L151.2,491.0 L151.9,490.7 L152.7,491.0 L153.4,490.9 L154.2,490.7 L154.9,491.2 L155.7,490.6 L156.5,491.1 L157.2,490.6 L158.0,491.0 L158.7,490.8 L159.5,490.8 L160.2,491.1 L161.0,490.8 L161.8,490.5 L162.6,490.5 L163.4,491.1 L164.2,490.8 L165.0,490.5 L165.8,491.2 L166.6,491.1 L167.3,490.6 L168.1,490.8 L168.9,490.6 L169.7,490.7 L170.5,490.9 L171.3,490.6 L172.1,491.0 L172.9,490.5 L173.7,490.6 L174.5,491.1 L175.3,490.8 L176.1,490.8 L176.9,490.9 L177.7,490.8 L178.5,490.8 L179.2,490.7 L180.0,490.5 L180.8,491.0 L181.6,491.1 L182.4,491.1 L183.2,490.9 L183.9,490.7 L184.7,490.6 L185.5,490.9 L186.3,490.8 L187.1,490.4 L187.9,490.5 L188.6,490.6 L189.4,490.7 L190.2,490.9 L191.0,490.7 L191.7,490.6 L192.3,490.2 L193.0,490.7 L193.7,490.4 L194.3,490.3 L195.0,490.3 L195.6,490.0 L196.2,490.0 L196.8,490.0 L197.5,490.1 L198.1,490.6 L198.7,490.3 L199.3,490.8 L200.0,490.8 L200.8,490.6 L201.5,490.9 L202.2,490.4 L202.9,490.6 L203.6,490.6 L204.3,490.7 L205.0,490.5 L205.7,490.5 L206.4,490.1 L207.1,490.3 L207.8,490.1 L208.6,490.1 L209.3,490.2 L210.0,490.5 L210.7,490.1 L211.4,489.9 L212.1,490.1 L212.8,489.4 L213.4,489.8 L214.1,489.2 L214.8,488.9 L215.5,489.0 L217.8,488.0 L220.7,484.5 L221.7,480.0 L222.2,474.0 L222.6,462.0 L223.0,447.0 L223.4,432.0 L224.0,400.0 L224.4,360.0 L224.6,300.0 L224.9,120.0 L225.1,47.5 L225.5,120.0 L226.4,300.0 L226.8,360.0 L227.3,400.0 L227.8,432.0 L228.2,455.0 L228.6,468.0 L228.9,475.0 L229.4,479.0 L230.0,482.0 L231.7,486.8 L233.5,488.5 L235.2,489.3 L236.2,489.7 L238.7,488.0 L240.0,484.2 L241.0,477.5 L242.0,472.5 L243.0,478.3 L243.7,477.5 L244.7,470.0 L245.7,465.0 L246.7,460.0 L247.3,456.3 L248.0,461.7 L249.0,471.7 L250.0,478.3 L251.2,482.5 L252.3,484.2 L253.3,478.3 L254.0,471.7 L254.5,469.7 L255.0,473.3 L255.7,481.7 L256.7,486.7 L258.3,489.2 L259.0,489.2 L259.8,489.7 L260.5,489.9 L261.2,490.0 L261.9,490.2 L262.6,489.8 L263.2,489.8 L263.9,489.8 L264.6,489.8 L265.3,490.0 L266.1,490.2 L266.8,489.7 L267.6,490.0 L268.3,489.8 L269.0,489.9 L269.8,490.0 L270.5,490.2 L271.3,490.1 L272.0,490.0 L272.8,489.7 L273.6,489.8 L274.4,489.8 L275.2,490.3 L276.0,490.2 L276.8,490.2 L277.6,490.2 L278.3,490.2 L279.1,490.3 L279.9,490.2 L280.7,489.8 L281.5,490.2 L282.3,490.0 L283.1,490.2 L283.9,490.0 L284.7,490.0 L285.5,489.9 L286.3,490.0 L287.1,489.9 L287.9,489.7 L288.7,490.0 L289.5,490.2 L290.3,490.2 L291.0,490.4 L291.8,490.2 L292.6,490.1 L293.4,490.2 L294.2,489.8 L295.0,490.2 L295.8,490.0 L296.6,489.9 L297.4,489.9 L298.2,490.1 L299.0,489.9 L299.8,490.1 L300.6,490.2 L301.4,490.1 L302.2,489.9 L303.0,490.1 L303.7,490.0 L304.5,490.0 L305.3,490.2 L306.1,490.0 L306.9,490.1 L307.7,489.9 L308.5,490.3 L309.3,490.5 L310.1,490.1 L310.9,490.3 L311.7,490.5 L312.5,489.8 L313.3,489.9 L314.1,490.4 L314.9,490.4 L315.7,490.3 L316.4,489.9 L317.2,490.1 L318.0,490.4 L318.8,490.4 L319.6,490.4 L320.4,490.0 L321.2,490.4 L322.0,490.2 L322.8,490.1 L323.6,490.3 L324.4,489.9 L325.1,490.5 L325.9,490.3 L326.7,490.4 L327.5,490.0 L328.3,490.3 L329.1,490.3 L329.9,490.3 L330.6,490.2 L331.4,490.5 L332.2,490.2 L333.0,490.3 L333.8,490.2 L334.6,490.1 L335.4,490.5 L336.2,490.1 L337.0,490.1 L337.8,490.0 L338.6,490.4 L339.3,490.4 L340.1,490.4 L340.9,490.0 L341.7,490.3 L342.5,490.2 L343.3,490.0 L344.1,490.0 L344.9,490.7 L345.7,490.1 L346.5,490.2 L347.3,490.2 L348.1,490.4 L348.9,490.0 L349.7,490.3 L350.5,490.3 L351.3,490.2 L352.0,490.5 L352.8,489.9 L353.6,490.1 L354.4,490.2 L355.2,490.6 L356.0,490.2 L356.8,490.2 L357.6,490.3 L358.4,490.0 L359.2,489.8 L360.0,490.1 L360.8,490.4 L361.6,490.3 L362.4,489.9 L363.2,490.2 L364.0,490.3 L364.7,489.9 L365.5,490.1 L366.3,490.0 L367.1,489.9 L367.9,489.8 L368.7,489.8 L369.5,489.7 L370.3,489.7 L371.1,489.5 L371.9,489.7 L372.7,489.5 L373.5,489.9 L374.3,489.8 L375.1,489.3 L375.9,489.8 L376.7,489.4 L377.4,489.5 L378.2,489.6 L379.0,489.4 L379.8,489.3 L380.6,489.4 L381.4,489.1 L382.2,489.6 L383.0,489.3 L383.8,489.0 L384.6,489.5 L385.4,489.0 L386.2,489.0 L387.0,489.1 L387.8,488.8 L388.6,488.8 L389.3,488.9 L390.1,488.9 L390.9,489.2 L391.7,489.2 L392.5,488.5 L393.3,488.8 L394.1,488.5 L394.9,489.0 L395.7,488.6 L396.5,488.9 L397.3,488.7 L398.1,488.3 L398.9,488.2 L399.7,488.5 L400.5,488.3 L401.3,488.8 L402.0,488.3 L402.8,488.5 L403.6,488.4 L404.4,488.4 L405.2,488.7 L406.0,488.3 L406.8,488.7 L407.6,488.6 L408.4,488.8 L409.2,488.5 L410.0,488.8 L410.8,488.5 L411.6,488.6 L412.4,488.6 L413.2,488.7 L414.0,488.8 L414.7,488.2 L415.5,488.2 L416.3,488.5 L417.1,488.5 L417.9,488.8 L418.7,488.6 L419.5,488.4 L420.2,488.9 L421.0,488.5 L421.8,488.3 L422.6,488.3 L423.4,488.3 L424.2,488.7"/>
<path stroke="#b5121b" d="M493.0,488.8 L493.8,488.5 L494.6,488.6 L495.4,488.7 L496.2,488.9 L496.9,488.5 L497.7,488.5 L498.5,488.6 L499.3,488.9 L500.1,488.5 L500.9,488.8 L501.7,488.7 L502.4,488.7 L503.1,488.3 L503.9,488.5 L504.6,488.3 L505.4,488.2 L506.1,488.5 L506.9,487.9 L507.6,487.8 L508.3,488.0 L509.0,488.1 L509.8,487.7 L510.5,487.4 L511.2,487.3 L511.9,487.2 L512.6,487.4 L513.3,487.0 L514.0,486.6 L514.7,486.4 L515.3,486.4 L516.0,486.1 L516.7,485.8 L517.2,485.7 L517.8,485.3 L518.3,484.7 L518.9,484.7 L519.4,484.7 L520.0,485.0 L520.6,484.9 L521.1,484.7 L521.7,484.2 L522.3,483.1 L523.0,482.6 L523.7,481.7 L524.3,479.8 L525.0,477.5 L525.6,473.8 L526.2,470.0 L526.7,464.8 L527.2,460.0 L527.7,456.0 L528.2,451.7 L528.6,448.5 L529.0,445.0 L529.7,450.0 L530.3,456.7 L530.8,461.5 L531.2,466.7 L531.7,470.9 L532.2,475.0 L532.8,477.7 L533.3,480.8 L534.0,482.2 L534.7,484.2 L535.3,484.8 L536.0,485.5 L536.7,486.3 L537.3,486.5 L538.0,487.0 L538.7,487.3 L539.3,487.7 L540.0,487.7 L540.7,488.0 L541.4,488.2 L542.1,488.1 L542.9,487.9 L543.6,487.9 L544.3,488.3 L545.0,488.3 L545.8,488.4 L546.5,488.5 L547.3,488.2 L548.1,488.3 L548.8,488.7 L549.6,488.5 L550.4,488.6 L551.2,488.3 L551.9,488.5 L552.7,488.8 L553.5,488.7 L554.2,488.9 L555.0,488.7 L555.8,488.5 L556.6,488.7 L557.4,488.9 L558.1,488.7 L558.9,488.9 L559.7,488.8 L560.5,488.5 L561.3,488.5 L562.1,489.0 L562.8,488.5 L563.6,488.6 L564.4,488.7 L565.2,488.9 L566.0,489.0 L566.8,488.8 L567.5,488.8 L568.3,488.8 L569.1,489.0 L569.9,488.7 L570.7,488.8 L571.5,488.9 L572.3,489.0 L573.1,488.6 L573.9,488.7 L574.7,488.7 L575.5,489.0 L576.3,489.0 L577.1,489.2 L577.9,489.1 L578.7,488.8 L579.4,489.1 L580.2,489.2 L581.0,488.9 L581.8,488.7 L582.6,488.9 L583.4,488.9 L584.2,488.8 L585.0,489.0 L585.8,488.8 L586.5,488.8 L587.3,489.3 L588.1,488.8 L588.8,489.2 L589.6,489.0 L590.4,489.0 L591.2,489.4 L591.9,489.1 L592.7,489.1 L593.5,489.3 L594.2,489.4 L595.0,489.3"/>
<path stroke="#30101c" stroke-opacity=".3" stroke-width="2.2" d="M225.2,330 L225.3,120 L225.5,48.5 L225.9,120 L226.4,330"/>
</g>
<g stroke="#000" stroke-width="1.1" fill="none">
<line x1="3" y1="540.5" x2="425.5" y2="540.5"/>
<line x1="493.2" y1="540.5" x2="596.8" y2="540.5"/>
<line x1="46.4" y1="540.5" x2="46.4" y2="546.5"/>
<line x1="109.3" y1="540.5" x2="109.3" y2="551.5"/>
<line x1="172.7" y1="540.5" x2="172.7" y2="546.5"/>
<line x1="236.4" y1="540.5" x2="236.4" y2="551.5"/>
<line x1="299.2" y1="540.5" x2="299.2" y2="546.5"/>
<line x1="361.8" y1="540.5" x2="361.8" y2="551.5"/>
<line x1="425.1" y1="540.5" x2="425.1" y2="546.5"/>
<line x1="493.8" y1="540.5" x2="493.8" y2="551.5"/>
<line x1="556.8" y1="540.5" x2="556.8" y2="546.5"/>
</g>
<g font-family="'Liberation Serif', serif" font-size="17.7" fill="#000" text-anchor="middle">
<text x="45.2" y="570.8">250</text>
<text x="108.8" y="570.8">500</text>
<text x="172.7" y="570.8">750</text>
<text x="237.0" y="570.8">1000</text>
<text x="299.9" y="570.8">1250</text>
<text x="362.0" y="570.8">1500</text>
<text x="426.3" y="570.8">1750</text>
<text x="492.9" y="570.8">3500</text><text x="555.9" y="570.8">3750</text>
</g>
<text transform="translate(455.5,547.2) skewX(-3)" font-family="'Liberation Sans', sans-serif" font-size="21" fill="#000">//</text>
<text x="265.5" y="597.8" font-family="'Liberation Serif', serif" font-size="19.4" fill="#000">Wavenumber (cm<tspan font-size="12.5" dy="-7">-1</tspan><tspan dy="7">)</tspan></text>
<g font-family="'Liberation Serif', serif" font-size="19.3" fill="#000">
<text x="612.1" y="447.5">700 ºC</text>
<text x="612.1" y="494">900 ºC</text>
<text x="613.3" y="534.5">HAp</text>
</g>
<text transform="translate(213.8,66.5) rotate(-90)" font-family="'Liberation Serif', serif" font-size="17" fill="#000"><tspan x="-0.6" y="0" font-size="21" font-style="italic">v</tspan><tspan x="9.2" y="4.5" font-size="12">1</tspan><tspan x="14.5" y="0" font-size="17">(</tspan><tspan x="21.2" y="0" font-size="17">PO</tspan><tspan x="43.8" y="4.4" font-size="12">4</tspan><tspan x="49.7" y="-4.9" font-size="12">3-</tspan><tspan x="59.0" y="0" font-size="17">)</tspan></text>
<text transform="translate(95.7,381.2) rotate(-90)" font-family="'Liberation Serif', serif" font-size="17" fill="#000"><tspan x="0" y="0" font-size="21" font-style="italic">v</tspan><tspan x="9.2" y="4.5" font-size="12">2</tspan><tspan x="14.5" y="0" font-size="17">(</tspan><tspan x="21.2" y="0" font-size="17">PO</tspan><tspan x="43.8" y="4.4" font-size="12">4</tspan><tspan x="49.7" y="-4.9" font-size="12">3-</tspan><tspan x="59.0" y="0" font-size="17">)</tspan></text>
<text transform="translate(136.2,379.3) rotate(-90)" font-family="'Liberation Serif', serif" font-size="17" fill="#000"><tspan x="-1" y="0" font-size="21" font-style="italic">v</tspan><tspan x="9.2" y="4.5" font-size="12">4</tspan><tspan x="14.5" y="0" font-size="17">(</tspan><tspan x="21.2" y="0" font-size="17">PO</tspan><tspan x="43.8" y="4.4" font-size="12">4</tspan><tspan x="49.7" y="-4.9" font-size="12">3-</tspan><tspan x="59.0" y="0" font-size="17">)</tspan></text>
<text transform="translate(250.8,368.6) rotate(-90)" font-family="'Liberation Serif', serif" font-size="17" fill="#000"><tspan x="-1" y="0" font-size="21" font-style="italic">v</tspan><tspan x="9.2" y="4.5" font-size="12">3</tspan><tspan x="14.5" y="0" font-size="17">(</tspan><tspan x="21.2" y="0" font-size="17">PO</tspan><tspan x="43.8" y="4.4" font-size="12">4</tspan><tspan x="49.7" y="-4.9" font-size="12">3-</tspan><tspan x="59.0" y="0" font-size="17">)</tspan></text>
<text transform="translate(531.7,401.2) rotate(-90)" font-family="'Liberation Serif', serif" font-size="17" fill="#000"><tspan x="0" y="0" font-size="21" font-style="italic">v</tspan><tspan x="9.5" y="0" font-size="17">(OH)</tspan></text>
<text transform="translate(279.8,356.4)" font-family="'Liberation Serif', serif" font-size="17" fill="#000"><tspan x="0" y="0" font-size="21" font-style="italic">v</tspan><tspan x="9.3" y="4.7" font-size="12">1</tspan><tspan x="14.2" y="0" font-size="17">(</tspan><tspan x="20.6" y="0" font-size="17">CO</tspan><tspan x="45.3" y="4.7" font-size="12">3</tspan><tspan x="51.0" y="-5.2" font-size="12">2-</tspan><tspan x="61.1" y="0" font-size="17">)</tspan></text>
<line x1="277.1" y1="366.6" x2="263" y2="381.8" stroke="#000" stroke-width="1.6"/>
<polygon points="257.4,387.9 260.4,377.4 267.5,384.1" fill="#000"/>
</svg>
</body></html>
